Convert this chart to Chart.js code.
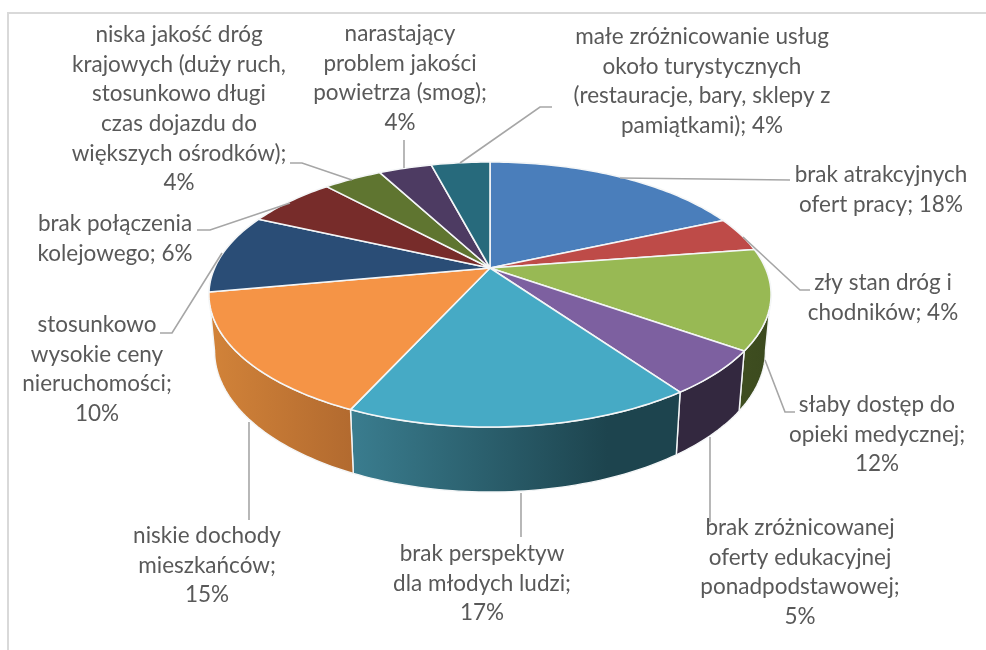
<!DOCTYPE html>
<html>
<head>
<meta charset="utf-8">
<style>html,body{margin:0;padding:0;background:#fff}canvas{display:block}</style>
<script src="https://cdn.jsdelivr.net/npm/chart.js@4/dist/chart.umd.min.js"></script>
</head>
<body>
<canvas id="c" width="986" height="650"></canvas>
<script>
const categories = [
  "brak atrakcyjnych ofert pracy",
  "zły stan dróg i chodników",
  "słaby dostęp do opieki medycznej",
  "brak zróżnicowanej oferty edukacyjnej ponadpodstawowej",
  "brak perspektyw dla młodych ludzi",
  "niskie dochody mieszkańców",
  "stosunkowo wysokie ceny nieruchomości",
  "brak połączenia kolejowego",
  "niska jakość dróg krajowych (duży ruch, stosunkowo długi czas dojazdu do większych ośrodków)",
  "narastający problem jakości powietrza (smog)",
  "małe zróżnicowanie usług około turystycznych (restauracje, bary, sklepy z pamiątkami)"
];
const values = [18.4, 4.2, 12.2, 5.4, 16.6, 15.3, 9.7, 6.3, 4.1, 3.7, 4.1];
const topColors = ["#4a7ebb","#be4b48","#98b954","#7d60a0","#46aac5","#f59446","#2a4d76","#772c2a","#5f7530","#4d3b62","#276a7c"];
const wallLeft  = ["#2c4d75","#772c2a","#3f4e20","#33283f","#3a7d8f","#d28339","#1c3350","#4f1d1c","#3f4e20","#33283f","#1a4753"];
const wallRight = ["#2c4d75","#772c2a","#3b4a1e","#33283f","#1d444e","#b26a2f","#1c3350","#4f1d1c","#3f4e20","#33283f","#1a4753"];
const labelLines = [
  ["brak atrakcyjnych","ofert pracy; 18%"],
  ["zły stan dróg i","chodników; 4%"],
  ["słaby dostęp do","opieki medycznej;","12%"],
  ["brak zróżnicowanej","oferty edukacyjnej","ponadpodstawowej;","5%"],
  ["brak perspektyw","dla młodych ludzi;","17%"],
  ["niskie dochody","mieszkańców;","15%"],
  ["stosunkowo","wysokie ceny","nieruchomości;","10%"],
  ["brak połączenia","kolejowego; 6%"],
  ["niska jakość dróg","krajowych (duży ruch,","stosunkowo długi","czas dojazdu do","większych ośrodków);","4%"],
  ["narastający","problem jakości","powietrza (smog);","4%"],
  ["małe zróżnicowanie usług","około turystycznych","(restauracje, bary, sklepy z","pamiątkami); 4%"]
];
// label layout: centre x, first-line centre y
const labelPos = [[881,175],[883,283],[877,405],[800,528],[482,554],[207,536],[97,325],[115,224],[179,35],[400,34],[702,37]];
const leaders = [
  [[620,178],[790,180]],
  [[743,237],[800,290],[810,290]],
  [[765,360],[785,412],[795,412]],
  [[710,437],[710,522]],
  [[521,493],[521,537]],
  [[249,422],[249,520]],
  [[222,253],[172,333],[160,333]],
  [[290,203],[210,230],[197,230]],
  [[352,180],[302,163],[290,163]],
  [[404,168],[404,140]],
  [[460,163],[540,107],[552,107]]
];
const LINE = 29.6, K = 0.2, SQUASH = 0.462, FONT = '22.5px Lato, "Open Sans", sans-serif';

function project(arc, a){
  const u = Math.cos(a), v = Math.sin(a), d = 1 - K * v, r = arc.outerRadius;
  return [arc.x + r * u / d, arc.y + r * SQUASH * v / d];
}
function lower(arc, p){
  return [arc.x + 0.98 * (p[0] - arc.x), arc.y + 54.5 + 1.066 * (p[1] - arc.y)];
}
function samples(a0, a1){
  const n = Math.max(2, Math.ceil(Math.abs(a1 - a0) / 0.02)), out = [];
  for (let i = 0; i <= n; i++) out.push(a0 + (a1 - a0) * i / n);
  return out;
}

const pie3d = {
  id: 'pie3d',
  beforeDraw(chart){
    const ctx = chart.ctx;
    ctx.save();
    ctx.fillStyle = '#fff';
    ctx.fillRect(0, 0, chart.width, chart.height);
    ctx.strokeStyle = '#d9d9d9';
    ctx.lineWidth = 2;
    ctx.beginPath();
    ctx.moveTo(8, chart.height);
    ctx.lineTo(8, 13);
    ctx.lineTo(chart.width, 13);
    ctx.stroke();
    ctx.restore();
  },
  beforeDatasetDraw(chart){
    const ctx = chart.ctx, arcs = chart.getDatasetMeta(0).data;
    const FRONT0 = 0.2, FRONT1 = Math.PI - 0.2;
    ctx.save();
    ctx.lineJoin = 'round';
    // side walls
    arcs.forEach((arc, i) => {
      const a0 = Math.max(arc.startAngle, FRONT0), a1 = Math.min(arc.endAngle, FRONT1);
      if (a1 <= a0) return;
      const top = samples(a0, a1).map(a => project(arc, a));
      const bot = top.map(p => lower(arc, p)).reverse();
      const xs = top.concat(bot).map(p => p[0]);
      const g = ctx.createLinearGradient(Math.min(...xs), 0, Math.max(...xs), 0);
      g.addColorStop(0, wallLeft[i]);
      g.addColorStop(i === 4 ? 0.78 : 1, wallRight[i]);
      if (i === 4) g.addColorStop(1, wallRight[i]);
      ctx.beginPath();
      top.concat(bot).forEach((p, j) => j ? ctx.lineTo(p[0], p[1]) : ctx.moveTo(p[0], p[1]));
      ctx.closePath();
      ctx.fillStyle = g;
      ctx.fill();
      ctx.strokeStyle = '#f4f6f7';
      ctx.lineWidth = 1.4;
      ctx.stroke();
    });
    // top surface
    arcs.forEach(arc => {
      ctx.beginPath();
      ctx.moveTo(arc.x, arc.y);
      samples(arc.startAngle, arc.endAngle).map(a => project(arc, a)).forEach(p => ctx.lineTo(p[0], p[1]));
      ctx.closePath();
      ctx.fillStyle = arc.options.backgroundColor;
      ctx.fill();
      ctx.strokeStyle = '#f4f6f7';
      ctx.lineWidth = 1.6;
      ctx.stroke();
    });
    ctx.restore();
    return false;
  },
  afterDatasetsDraw(chart){
    const ctx = chart.ctx;
    ctx.save();
    ctx.strokeStyle = '#a6a6a6';
    ctx.lineWidth = 1.6;
    leaders.forEach(pts => {
      ctx.beginPath();
      pts.forEach((p, j) => j ? ctx.lineTo(p[0], p[1]) : ctx.moveTo(p[0], p[1]));
      ctx.stroke();
    });
    ctx.fillStyle = '#595959';
    ctx.font = FONT;
    ctx.textAlign = 'center';
    ctx.textBaseline = 'middle';
    labelLines.forEach((lines, i) => {
      lines.forEach((t, j) => ctx.fillText(t, labelPos[i][0], labelPos[i][1] + j * LINE));
    });
    ctx.restore();
  }
};

new Chart(document.getElementById('c'), {
  type: 'pie',
  data: { labels: categories, datasets: [{ data: values, backgroundColor: topColors, borderWidth: 0 }] },
  options: {
    responsive: false,
    animation: false,
    devicePixelRatio: 1,
    radius: 275.4,
    layout: { padding: { left: 0, right: 6, top: 0, bottom: 114 } },
    plugins: { legend: { display: false }, tooltip: { enabled: false } }
  },
  plugins: [pie3d]
});
</script>
</body>
</html>
